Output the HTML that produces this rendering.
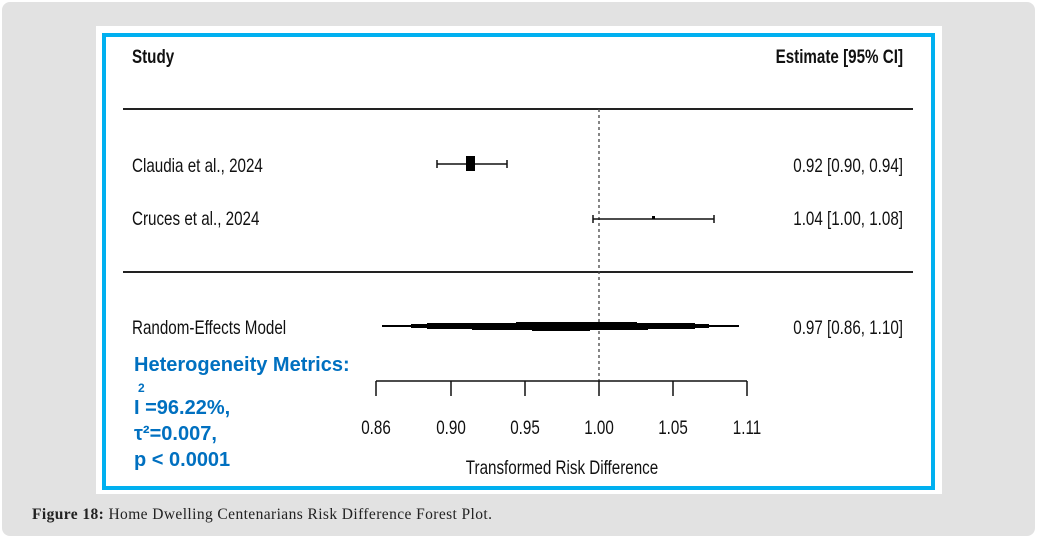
<!DOCTYPE html>
<html><head><style>
html,body{margin:0;padding:0;background:#fff;}
body{width:1039px;height:544px;position:relative;overflow:hidden;}
.bg{position:absolute;left:2px;top:2px;width:1033px;height:534px;background:#e2e2e2;border-radius:8px;}
svg{position:absolute;left:0;top:0;}
.n{font-family:"Liberation Sans",Arial,sans-serif;font-size:19px;fill:#111;}
</style></head><body>
<div class="bg"></div>
<svg width="1039" height="544" viewBox="0 0 1039 544">
<rect x="96" y="26" width="846" height="468" fill="#fff"/>
<rect x="104" y="35" width="829" height="453" fill="none" stroke="#00b0f0" stroke-width="4"/>
<g transform="translate(132,63) scale(0.8,1)"><text class="n" font-weight="bold">Study</text></g>
<g transform="translate(903,63) scale(0.8,1)"><text class="n" font-weight="bold" text-anchor="end">Estimate [95% CI]</text></g>
<line x1="123" y1="109" x2="913" y2="109" stroke="#222" stroke-width="2"/>
<line x1="123" y1="272" x2="913" y2="272" stroke="#222" stroke-width="2"/>
<line x1="599" y1="109" x2="599" y2="383" stroke="#444" stroke-width="1.3" stroke-dasharray="3,3"/>
<g transform="translate(132,172) scale(0.8,1)"><text class="n">Claudia et al., 2024</text></g>
<g transform="translate(132,225) scale(0.8,1)"><text class="n">Cruces et al., 2024</text></g>
<g transform="translate(132,334) scale(0.8,1)"><text class="n">Random-Effects Model</text></g>
<g transform="translate(903,172) scale(0.8,1)"><text class="n" text-anchor="end">0.92 [0.90, 0.94]</text></g>
<g transform="translate(903,225) scale(0.8,1)"><text class="n" text-anchor="end">1.04 [1.00, 1.08]</text></g>
<g transform="translate(903,334) scale(0.8,1)"><text class="n" text-anchor="end">0.97 [0.86, 1.10]</text></g>
<g stroke="#111" stroke-width="1.5">
<line x1="437" y1="164" x2="507" y2="164"/><line x1="437" y1="160" x2="437" y2="168"/><line x1="507" y1="160" x2="507" y2="168"/>
<line x1="593" y1="219" x2="714" y2="219"/><line x1="593" y1="215" x2="593" y2="223"/><line x1="714" y1="215" x2="714" y2="223"/>
</g>
<rect x="466" y="156" width="9" height="15" fill="#000"/>
<rect x="652" y="216" width="3" height="3" fill="#000"/>
<g fill="#000">
<rect x="382" y="325" width="357" height="2"/>
<rect x="411" y="324" width="298" height="4"/>
<rect x="427" y="323" width="268" height="6"/>
<rect x="472" y="323" width="176" height="7"/>
<rect x="516" y="322" width="121" height="8"/>
<rect x="532" y="322" width="58" height="9"/>
</g>
<g stroke="#111" stroke-width="1.5">
<line x1="376" y1="381" x2="747" y2="381"/>
<line x1="376" y1="381" x2="376" y2="396"/><line x1="451" y1="381" x2="451" y2="396"/>
<line x1="525" y1="381" x2="525" y2="396"/><line x1="599" y1="381" x2="599" y2="396"/>
<line x1="673" y1="381" x2="673" y2="396"/><line x1="747" y1="381" x2="747" y2="396"/>
</g>
<g transform="translate(376,434) scale(0.8,1)"><text class="n" text-anchor="middle">0.86</text></g>
<g transform="translate(451,434) scale(0.8,1)"><text class="n" text-anchor="middle">0.90</text></g>
<g transform="translate(525,434) scale(0.8,1)"><text class="n" text-anchor="middle">0.95</text></g>
<g transform="translate(599,434) scale(0.8,1)"><text class="n" text-anchor="middle">1.00</text></g>
<g transform="translate(673,434) scale(0.8,1)"><text class="n" text-anchor="middle">1.05</text></g>
<g transform="translate(747,434) scale(0.8,1)"><text class="n" text-anchor="middle">1.11</text></g>
<g transform="translate(562,474) scale(0.8,1)"><text class="n" text-anchor="middle">Transformed Risk Difference</text></g>
<g font-family="'Liberation Sans',Arial,sans-serif" font-weight="bold" fill="#0070c0" font-size="20">
<text x="134" y="371">Heterogeneity Metrics:</text>
<text x="138" y="392" font-size="12">2</text>
<text x="134" y="414">I =96.22%,</text>
<text x="134" y="440">τ²=0.007,</text>
<text x="134" y="466">p &lt; 0.0001</text>
</g>
<text x="32" y="519" font-family="'Liberation Serif',serif" font-size="15.5" fill="#222" textLength="460"><tspan font-weight="bold">Figure 18:</tspan> Home Dwelling Centenarians Risk Difference Forest Plot.</text>
</svg>
</body></html>
